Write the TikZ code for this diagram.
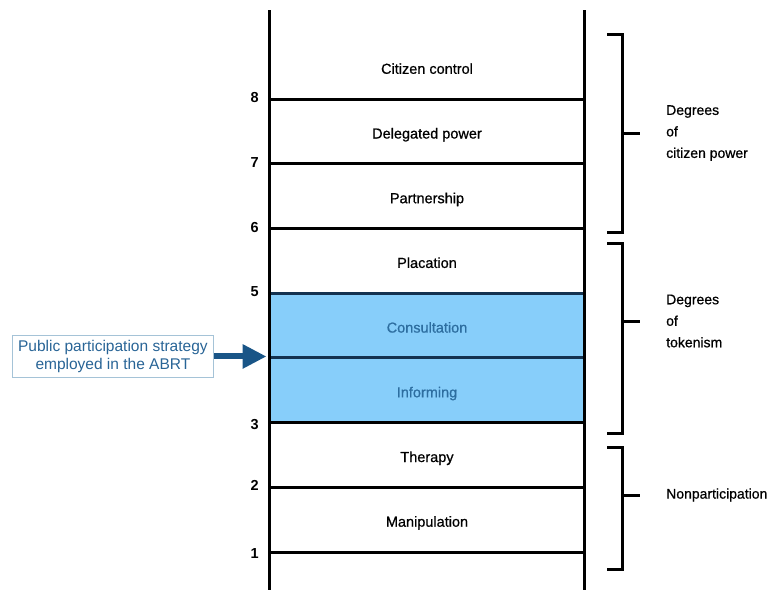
\documentclass[tikz,border=0pt]{standalone}
\usepackage{fontspec}
\setmainfont{Liberation Sans}
\newfontfamily\scanfont{Liberation Sans}[FakeBold=0.7]
\usepackage{tikz}
\usetikzlibrary{positioning, arrows.meta}
\definecolor{ladderblue}{RGB}{135,206,250}
\definecolor{rungnavy}{RGB}{20,50,80}
\definecolor{labelblue}{RGB}{45,110,160}
\definecolor{boxtext}{RGB}{40,100,150}
\definecolor{boxframe}{RGB}{165,195,215}
\definecolor{arrowblue}{RGB}{25,85,135}
\tikzstyle{rungbox} = [rectangle, minimum width=315pt, minimum height=64.7pt, text centered, text height=14pt, text depth=0pt, draw=black, line width=3pt, font=\scanfont\fontsize{14.5}{16}\selectfont]
\tikzstyle{shaded} = [rungbox, fill=ladderblue, draw=rungnavy, text=labelblue]
\tikzstyle{rail} = [line width=3pt]
\tikzstyle{rungnum} = [inner sep=0pt, font=\fontsize{14.5}{16}\selectfont\bfseries]
\tikzstyle{bracket} = [line width=3pt]
\tikzstyle{grouplabel} = [inner sep=0pt, align=left, font=\scanfont\fontsize{14}{21.5}\selectfont]
\tikzstyle{strategybox} = [rectangle, minimum width=201pt, minimum height=42pt, align=center, draw=boxframe, line width=1.2pt, text=boxtext, font=\fontsize{15.5}{18}\selectfont]
\tikzstyle{arrow} = [line width=6pt, draw=arrowblue, -{Triangle[length=24pt,width=23pt]}]

\begin{document}
\begin{tikzpicture}[x=1pt, y=-1pt, node distance=64.7pt]
\useasboundingbox (0,0) rectangle (775,590);

\node (citizen) [rungbox, draw=none] at (427,66.8) {Citizen control};
\node (delegated) [rungbox, below of=citizen] {Delegated power};
\node (partnership) [rungbox, below of=delegated] {Partnership};
\node (placation) [rungbox, below of=partnership] {Placation};
\node (consultation) [shaded, below of=placation] {Consultation};
\node (informing) [shaded, below of=consultation] {Informing};
\node (therapy) [rungbox, below of=informing] {Therapy};
\node (manipulation) [rungbox, below of=therapy] {Manipulation};

% ladder rails
\draw [rail] (269.5,10) -- (269.5,590);
\draw [rail] (584.5,10) -- (584.5,590);

\node [rungnum, left=9pt of delegated.north west] {8};
\node [rungnum, left=9pt of partnership.north west] {7};
\node [rungnum, left=9pt of placation.north west] {6};
\node [rungnum, left=9pt of consultation.north west] {5};
\node [rungnum, left=9pt of informing.south west] {3};
\node [rungnum, left=9pt of manipulation.north west] {2};
\node [rungnum, left=9pt of manipulation.south west] {1};

% group brackets
\draw [bracket] (607,34) -| (622,232) -- (607,232);
\draw [bracket] (622,133) -- (640,133) coordinate (powertick);
\node (power) [grouplabel, right=26pt of powertick] {Degrees\\of\\citizen power};

\draw [bracket] (607,243) -| (622,433) -- (607,433);
\draw [bracket] (622,321) -- (640,321) coordinate (tokentick);
\node (token) [grouplabel, right=26pt of tokentick] {Degrees\\of\\tokenism};

\draw [bracket] (607,447) -| (622,569) -- (607,569);
\draw [bracket] (622,495) -- (640,495) coordinate (nontick);
\node (nonpart) [grouplabel, right=26pt of nontick] {Nonparticipation};

\node (strategy) [strategybox, left=54pt of informing.north west] {Public participation strategy\\employed in the ABRT};
\coordinate (arrowtip) at ([xshift=-1.5pt]informing.north west);
\draw [arrow] (strategy) -- (arrowtip);

\end{tikzpicture}
\end{document}
